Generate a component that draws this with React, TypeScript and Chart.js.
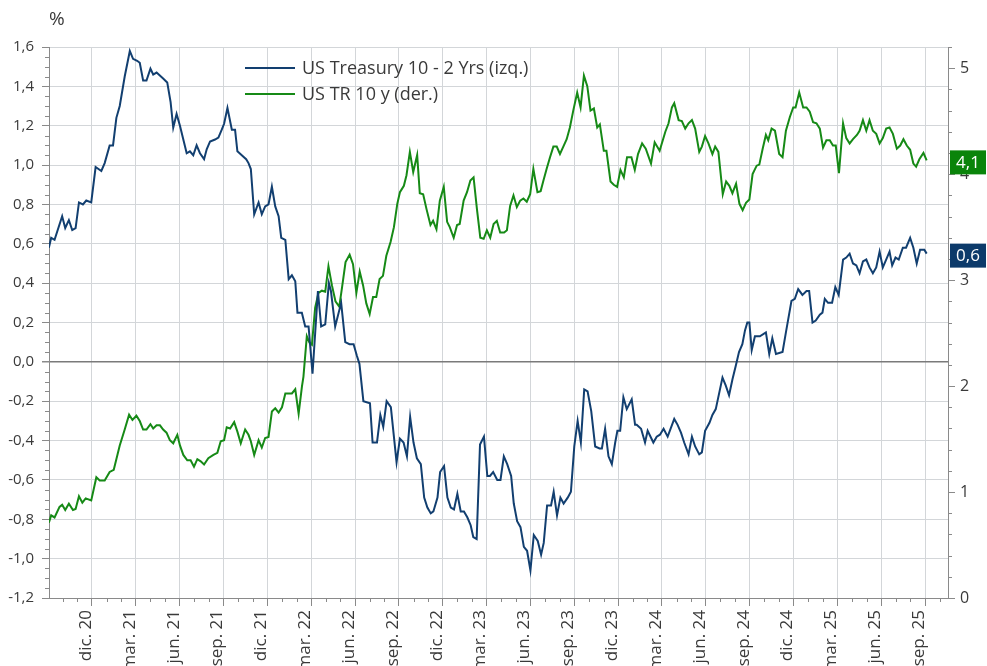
import React, { useEffect, useRef } from "react";
import { Chart, registerables } from "chart.js";

Chart.register(...registerables);

// x values: months since 1 Jan 2020 (11 = 1 Dec 2020)
const spreadT = [
  8.05, 8.21, 8.44, 8.96, 9.17, 9.42, 9.65, 9.88, 10.11, 10.38, 10.61, 10.95,
  11.25, 11.64, 11.87, 12.21, 12.44, 12.67, 12.9, 13.24, 13.59, 13.81, 14.09, 14.27,
  14.5, 14.73, 15.0, 15.19, 15.42, 15.87, 16.15, 16.38, 16.56, 16.79, 17.02, 17.25,
  17.48, 17.7, 17.93, 18.16, 18.39, 18.67, 18.85, 19.08, 19.42, 19.65, 19.88, 20.04,
  20.27, 20.57, 20.79, 20.95, 21.25, 21.55, 21.71, 21.87, 22.1, 22.4, 22.62, 22.85,
  23.08, 23.31, 23.54, 23.77, 23.95, 24.23, 24.46, 24.68, 24.91, 25.06, 25.36, 25.59,
  25.82, 26.09, 26.46, 26.68, 26.96, 27.21, 27.35, 27.64, 28.05, 28.33, 28.62, 28.9,
  29.13, 29.3, 29.57, 30.02, 30.2, 30.5, 30.73, 30.93, 31.16, 31.45, 31.84, 32.07,
  32.32, 32.55, 32.77, 33.0, 33.23, 33.5, 33.73, 33.95, 34.18, 34.36, 34.64, 34.82,
  35.09, 35.32, 35.55, 35.77, 36.0, 36.23, 36.45, 36.68, 36.91, 37.09, 37.32, 37.55,
  37.82, 38.05, 38.23, 38.45, 38.73, 38.95, 39.18, 39.41, 39.68, 39.86, 40.09, 40.32,
  40.55, 40.77, 41.0, 41.23, 41.5, 41.73, 41.91, 42.14, 42.41, 42.59, 42.82, 43.05,
  43.27, 43.55, 43.77, 44.0, 44.23, 44.45, 44.68, 44.91, 45.16, 45.43, 45.73, 45.89,
  46.11, 46.34, 46.57, 46.8, 46.95, 47.14, 47.36, 47.59, 47.93, 48.16, 48.27, 48.57,
  48.84, 49.02, 49.41, 49.64, 49.86, 50.11, 50.39, 50.84, 51.07, 51.3, 51.52, 51.82,
  52.05, 52.27, 52.55, 52.73, 52.95, 53.25, 53.45, 53.68, 53.91, 54.14, 54.36, 54.59,
  54.82, 55.05, 55.27, 55.5, 55.68, 55.84, 55.98, 56.14, 56.36, 56.7, 57.11, 57.34,
  57.55, 57.8, 58.25, 58.48, 58.86, 59.09, 59.32, 59.61, 59.89, 60.07, 60.3, 60.52,
  60.8, 60.98, 61.14, 61.36, 61.64, 61.86, 62.09, 62.39, 62.61, 62.84, 63.07, 63.3,
  63.52, 63.75, 63.98, 64.2, 64.43, 64.66, 64.89, 65.11, 65.34, 65.57, 65.75, 65.98,
  66.2, 66.48, 66.7, 66.98, 67.2, 67.43, 67.66, 67.95, 68.11,
];
const spreadV = [
  0.58, 0.63, 0.62, 0.74, 0.68, 0.72, 0.67, 0.68, 0.81, 0.8, 0.82, 0.81,
  0.99, 0.97, 1.01, 1.1, 1.1, 1.24, 1.3, 1.45, 1.58, 1.54, 1.53, 1.52,
  1.43, 1.43, 1.49, 1.46, 1.47, 1.44, 1.42, 1.32, 1.19, 1.26, 1.2, 1.13,
  1.06, 1.07, 1.05, 1.1, 1.06, 1.03, 1.08, 1.12, 1.13, 1.14, 1.18, 1.21,
  1.29, 1.18, 1.18, 1.07, 1.05, 1.03, 1.01, 0.98, 0.75, 0.81, 0.75, 0.79,
  0.8, 0.89, 0.79, 0.74, 0.63, 0.62, 0.42, 0.44, 0.41, 0.25, 0.25, 0.18,
  0.18, -0.06, 0.36, 0.18, 0.19, 0.4, 0.36, 0.18, 0.3, 0.1, 0.09, 0.09,
  0.03, -0.01, -0.2, -0.21, -0.41, -0.41, -0.27, -0.33, -0.2, -0.23, -0.51, -0.39,
  -0.41, -0.48, -0.28, -0.41, -0.49, -0.52, -0.69, -0.74, -0.77, -0.76, -0.69, -0.56,
  -0.53, -0.69, -0.74, -0.75, -0.67, -0.76, -0.76, -0.79, -0.83, -0.89, -0.9, -0.42,
  -0.38, -0.58, -0.58, -0.56, -0.6, -0.6, -0.48, -0.52, -0.58, -0.72, -0.81, -0.84,
  -0.94, -0.96, -1.06, -0.88, -0.91, -0.98, -0.92, -0.73, -0.73, -0.66, -0.78, -0.69,
  -0.72, -0.69, -0.66, -0.43, -0.3, -0.41, -0.14, -0.15, -0.25, -0.43, -0.44, -0.44,
  -0.34, -0.48, -0.52, -0.41, -0.35, -0.35, -0.18, -0.24, -0.19, -0.32, -0.32, -0.34,
  -0.41, -0.35, -0.41, -0.38, -0.37, -0.34, -0.38, -0.29, -0.32, -0.36, -0.41, -0.47,
  -0.38, -0.43, -0.47, -0.46, -0.35, -0.31, -0.27, -0.24, -0.16, -0.08, -0.12, -0.17,
  -0.09, -0.02, 0.05, 0.09, 0.16, 0.2, 0.2, 0.06, 0.13, 0.13, 0.15, 0.04,
  0.12, 0.04, 0.05, 0.15, 0.31, 0.32, 0.37, 0.34, 0.36, 0.36, 0.2, 0.21,
  0.24, 0.25, 0.32, 0.3, 0.3, 0.38, 0.34, 0.52, 0.53, 0.55, 0.5, 0.49,
  0.45, 0.51, 0.52, 0.48, 0.45, 0.48, 0.56, 0.48, 0.52, 0.56, 0.49, 0.53,
  0.52, 0.58, 0.58, 0.63, 0.58, 0.5, 0.57, 0.57, 0.55,
];

const yieldT = [
  8.05, 8.21, 8.44, 8.78, 8.96, 9.17, 9.42, 9.7, 9.88, 10.11, 10.34, 10.57,
  10.95, 11.3, 11.53, 11.87, 12.21, 12.49, 12.9, 13.24, 13.54, 13.77, 14.04, 14.27,
  14.5, 14.73, 15.0, 15.19, 15.42, 15.65, 15.87, 16.1, 16.33, 16.56, 16.84, 17.02,
  17.25, 17.52, 17.75, 17.98, 18.21, 18.44, 18.67, 18.96, 19.31, 19.58, 19.81, 20.04,
  20.22, 20.45, 20.73, 20.95, 21.18, 21.48, 21.71, 21.87, 22.1, 22.4, 22.62, 22.85,
  23.08, 23.31, 23.54, 23.77, 24.0, 24.23, 24.46, 24.68, 24.91, 25.14, 25.37, 25.47,
  25.7, 25.88, 26.05, 26.27, 26.5, 26.73, 26.96, 27.18, 27.42, 27.66, 27.92, 28.12,
  28.35, 28.63, 28.86, 29.09, 29.32, 29.55, 29.77, 30.0, 30.23, 30.45, 30.68, 30.91,
  31.14, 31.43, 31.66, 31.89, 32.07, 32.34, 32.52, 32.75, 32.98, 33.25, 33.43, 33.66,
  33.89, 34.16, 34.34, 34.57, 34.8, 35.07, 35.3, 35.48, 35.75, 35.98, 36.16, 36.43,
  36.66, 36.89, 37.11, 37.34, 37.57, 37.8, 38.02, 38.25, 38.48, 38.7, 38.93, 39.2,
  39.39, 39.61, 39.84, 40.07, 40.3, 40.52, 40.75, 40.98, 41.2, 41.48, 41.7, 41.89,
  42.11, 42.34, 42.57, 42.8, 43.02, 43.25, 43.48, 43.7, 43.93, 44.2, 44.43, 44.66,
  44.89, 45.11, 45.34, 45.57, 45.75, 46.02, 46.2, 46.48, 46.7, 46.93, 47.16, 47.39,
  47.61, 47.91, 48.14, 48.36, 48.64, 48.89, 49.25, 49.5, 49.84, 50.23, 50.45, 50.68,
  50.84, 51.14, 51.36, 51.59, 51.82, 52.05, 52.27, 52.55, 52.73, 52.95, 53.18, 53.45,
  53.64, 53.86, 54.16, 54.39, 54.61, 54.82, 55.07, 55.3, 55.52, 55.75, 55.98, 56.2,
  56.48, 56.66, 56.89, 57.11, 57.27, 57.5, 57.73, 58.02, 58.25, 58.48, 58.75, 58.98,
  59.14, 59.39, 59.66, 59.89, 60.11, 60.34, 60.57, 60.8, 61.02, 61.25, 61.48, 61.7,
  61.89, 62.11, 62.39, 62.61, 62.84, 63.07, 63.34, 63.52, 63.75, 63.98, 64.2, 64.43,
  64.66, 64.89, 65.11, 65.34, 65.57, 65.8, 66.07, 66.3, 66.52, 66.75, 66.98, 67.2,
  67.39, 67.61, 67.89, 68.11,
];
const yieldV = [
  0.71, 0.78, 0.76, 0.86, 0.88, 0.83, 0.89, 0.83, 0.84, 0.96, 0.9, 0.94,
  0.92, 1.14, 1.11, 1.11, 1.19, 1.21, 1.44, 1.59, 1.73, 1.68, 1.72, 1.67,
  1.59, 1.59, 1.64, 1.6, 1.63, 1.63, 1.59, 1.56, 1.49, 1.46, 1.54, 1.44,
  1.35, 1.3, 1.3, 1.24, 1.31, 1.29, 1.26, 1.32, 1.35, 1.37, 1.48, 1.49,
  1.61, 1.6, 1.66, 1.57, 1.46, 1.59, 1.54, 1.48, 1.35, 1.49, 1.42, 1.51,
  1.52, 1.76, 1.79, 1.75, 1.8, 1.93, 1.93, 1.93, 1.97, 1.74, 2.0, 2.09,
  2.47, 2.41, 2.39, 2.74, 2.88, 2.9, 2.89, 3.13, 2.95, 2.8, 2.75, 2.94,
  3.17, 3.24, 3.15, 2.88, 3.08, 2.95, 2.78, 2.68, 2.84, 2.84, 3.01, 3.04,
  3.23, 3.36, 3.5, 3.72, 3.83, 3.89, 3.99, 4.21, 4.02, 4.18, 3.82, 3.81,
  3.67, 3.52, 3.56, 3.48, 3.75, 3.88, 3.55, 3.5, 3.4, 3.52, 3.53, 3.75,
  3.83, 3.94, 3.97, 3.67, 3.4, 3.39, 3.47, 3.4, 3.53, 3.56, 3.45, 3.45,
  3.47, 3.7, 3.8, 3.69, 3.75, 3.77, 3.74, 3.81, 4.05, 3.83, 3.84, 3.94,
  4.05, 4.16, 4.26, 4.26, 4.19, 4.26, 4.33, 4.44, 4.6, 4.77, 4.63, 4.93,
  4.83, 4.6, 4.62, 4.44, 4.47, 4.22, 4.22, 3.93, 3.9, 3.88, 4.04, 3.97,
  4.16, 4.16, 4.04, 4.19, 4.29, 4.24, 4.1, 4.3, 4.22, 4.4, 4.48, 4.63,
  4.67, 4.51, 4.5, 4.43, 4.48, 4.51, 4.43, 4.21, 4.26, 4.36, 4.29, 4.19,
  4.26, 4.21, 3.81, 3.93, 3.89, 3.82, 3.91, 3.72, 3.66, 3.73, 3.76, 4.0,
  4.08, 4.09, 4.24, 4.37, 4.32, 4.43, 4.41, 4.19, 4.16, 4.41, 4.54, 4.63,
  4.63, 4.77, 4.63, 4.63, 4.59, 4.49, 4.48, 4.43, 4.25, 4.32, 4.32, 4.27,
  4.27, 4.01, 4.48, 4.34, 4.29, 4.33, 4.37, 4.41, 4.51, 4.41, 4.51, 4.41,
  4.38, 4.29, 4.34, 4.43, 4.44, 4.38, 4.24, 4.27, 4.33, 4.27, 4.23, 4.1,
  4.07, 4.14, 4.2, 4.13,
];

const tickMonths = [11, 14, 17, 20, 23, 26, 29, 32, 35, 38, 41, 44, 47, 50, 53, 56, 59, 62, 65, 68];
const tickLabels = [
  "dic. 20", "mar. 21", "jun. 21", "sep. 21", "dic. 21", "mar. 22", "jun. 22",
  "sep. 22", "dic. 22", "mar. 23", "jun. 23", "sep. 23", "dic. 23", "mar. 24",
  "jun. 24", "sep. 24", "dic. 24", "mar. 25", "jun. 25", "sep. 25",
];
const rightTicks = [0, 1, 2, 3, 4, 5];
const seriesNames = ["US Treasury 10 - 2 Yrs (izq.)", "US TR 10 y (der.)"];
const unitLabel = "%";

const BLUE = "#123f70";
const GREEN = "#168a16";
const BLUE_BOX = "#0c3a6a";
const GREEN_BOX = "#0a840a";
const GRID = "#d3d6d9";
const AXIS = "#8a8a8a";
const TEXT = "#3a3a3a";
const FONT = '"Open Sans", "DejaVu Sans", sans-serif';

const fmt = (v: number) => v.toFixed(1).replace(".", ",");

const overlayPlugin = {
  id: "overlay",
  afterDraw(chart: any) {
    const ctx = chart.ctx as CanvasRenderingContext2D;
    const { left, right, bottom } = chart.chartArea;
    const xs = chart.scales.x;
    const yl = chart.scales.y;
    const yr = chart.scales.y1;
    ctx.save();
    ctx.strokeStyle = AXIS;
    ctx.lineWidth = 1;
    const seg = (x1: number, y1: number, x2: number, y2: number) => {
      ctx.beginPath();
      ctx.moveTo(x1, y1);
      ctx.lineTo(x2, y2);
      ctx.stroke();
    };
    // minor ticks left axis (0.05)
    for (let i = 0; i <= 56; i++) {
      if (i % 4 === 0) continue;
      const py = Math.round(yl.getPixelForValue(-1.2 + i * 0.05)) + 0.5;
      seg(left - 4, py, left, py);
    }
    // minor ticks right axis (0.2)
    for (let i = 0; i <= 26; i++) {
      if (i % 5 === 0) continue;
      const py = Math.round(yr.getPixelForValue(i * 0.2)) + 0.5;
      seg(right, py, right + 4, py);
    }
    // monthly minor ticks on x axis
    for (let m = 9; m <= 69; m++) {
      if (tickMonths.includes(m)) continue;
      const px = Math.round(xs.getPixelForValue(m)) + 0.5;
      if (px < left || px > right) continue;
      seg(px, bottom, px, bottom + 4);
    }

    // unit label
    ctx.fillStyle = TEXT;
    ctx.font = `19px ${FONT}`;
    ctx.textBaseline = "middle";
    ctx.textAlign = "left";
    ctx.fillText(unitLabel, 49, 20);

    // legend
    ctx.font = `18px ${FONT}`;
    const cols = [BLUE, GREEN];
    seriesNames.forEach((name, i) => {
      const y = 68 + i * 26;
      ctx.strokeStyle = cols[i];
      ctx.lineWidth = 2;
      seg(245, y, 295, y);
      ctx.fillStyle = TEXT;
      ctx.fillText(name, 302, y + 1);
    });

    // end value boxes
    const boxes = [
      { v: yieldV[yieldV.length - 1], s: yr, c: GREEN_BOX },
      { v: spreadV[spreadV.length - 1], s: yl, c: BLUE_BOX },
    ];
    ctx.font = `17px ${FONT}`;
    ctx.textAlign = "center";
    boxes.forEach((b) => {
      const cy = b.s.getPixelForValue(b.v) + 2;
      ctx.fillStyle = b.c;
      ctx.fillRect(right + 2, cy - 12, 36, 24);
      ctx.fillStyle = "#ffffff";
      ctx.fillText(fmt(b.v), right + 20, cy + 1);
    });
    ctx.restore();
  },
};

export default function App() {
  const ref = useRef<HTMLCanvasElement | null>(null);
  useEffect(() => {
    if (!ref.current) return;
    const chart = new Chart(ref.current, {
      type: "line",
      data: {
        datasets: [
          {
            label: seriesNames[0],
            data: spreadT.map((t, i) => ({ x: t, y: spreadV[i] })),
            borderColor: BLUE,
            borderWidth: 2,
            pointRadius: 0,
            tension: 0,
            yAxisID: "y",
          },
          {
            label: seriesNames[1],
            data: yieldT.map((t, i) => ({ x: t, y: yieldV[i] })),
            borderColor: GREEN,
            borderWidth: 2,
            pointRadius: 0,
            tension: 0,
            yAxisID: "y1",
          },
        ],
      },
      options: {
        responsive: false,
        animation: false,
        devicePixelRatio: 1,
        layout: { padding: { top: 47, right: 0, left: 0, bottom: 0 } },
        plugins: { legend: { display: false }, tooltip: { enabled: false } },
        scales: {
          x: {
            type: "linear",
            min: 8.06,
            max: 69.57,
            afterBuildTicks: (s: any) => {
              s.ticks = tickMonths.map((v) => ({ value: v }));
            },
            afterFit: (s: any) => {
              s.height = 68;
            },
            grid: { color: GRID, tickColor: AXIS, tickLength: 8, drawTicks: true },
            border: { color: AXIS },
            ticks: {
              autoSkip: false,
              maxRotation: 90,
              minRotation: 90,
              padding: 4,
              labelOffset: -6,
              color: TEXT,
              font: { family: FONT, size: 17 },
              callback: (v: any) => {
                const i = tickMonths.indexOf(Number(v));
                return i >= 0 ? tickLabels[i] : "";
              },
            },
          },
          y: {
            type: "linear",
            position: "left",
            min: -1.2,
            max: 1.6,
            afterFit: (s: any) => {
              s.width = 49;
            },
            grid: {
              color: (c: any) => (Math.abs(c.tick.value) < 1e-9 ? "#7a7a7a" : GRID),
              lineWidth: (c: any) => (Math.abs(c.tick.value) < 1e-9 ? 1.5 : 1),
              tickColor: AXIS,
              tickLength: 7,
            },
            border: { color: AXIS },
            ticks: {
              stepSize: 0.2,
              padding: 8,
              color: TEXT,
              font: { family: FONT, size: 15 },
              callback: (v: any) => fmt(Number(v)),
            },
          },
          y1: {
            type: "linear",
            position: "right",
            min: 0,
            max: 5.2,
            afterBuildTicks: (s: any) => {
              s.ticks = rightTicks.map((v) => ({ value: v }));
            },
            afterFit: (s: any) => {
              s.width = 39;
            },
            grid: { drawOnChartArea: false, tickColor: AXIS, tickLength: 7 },
            border: { color: AXIS },
            ticks: {
              padding: 5,
              color: TEXT,
              font: { family: FONT, size: 16 },
              callback: (v: any) => String(v),
            },
          },
        },
      },
      plugins: [overlayPlugin],
    });
    return () => chart.destroy();
  }, []);
  return (
    <div style={{ position: "absolute", left: 0, top: 0, width: 987, height: 666, background: "#fff" }}>
      <canvas ref={ref} width={987} height={666} style={{ display: "block" }} />
    </div>
  );
}
